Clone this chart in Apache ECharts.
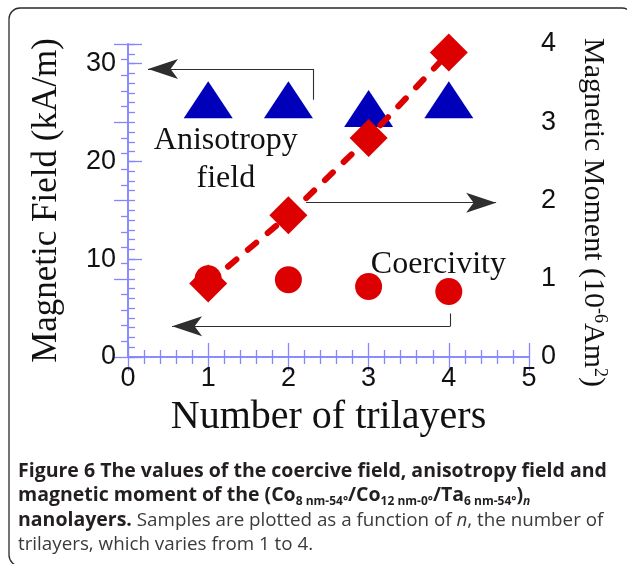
<!DOCTYPE html>
<html>
<head>
<meta charset="utf-8">
<script src="https://cdn.jsdelivr.net/npm/echarts@6/dist/echarts.min.js"></script>
<style>
html,body{margin:0;padding:0;background:#ffffff;}
#chart{width:627px;height:564px;}
</style>
</head>
<body>
<div id="chart"></div>
<script>
// ---- data ----
const trilayers = [1, 2, 3, 4];
const anisotropyField = [26.3, 26.3, 25.4, 26.3];   // kA/m, left axis
const coercivity = [8.0, 7.9, 7.2, 6.7];             // kA/m, left axis
const magneticMoment = [0.94, 1.81, 2.80, 3.89];     // 1e-6 Am^2, right axis

const xTickValues = [0, 1, 2, 3, 4, 5];
const leftTickValues = [0, 10, 20, 30];
const rightTickValues = [0, 1, 2, 3, 4];

// annotation geometry (data coordinates on bottom x / left y axes)
const anisoArrow = [[2.31, 26.3], [2.31, 29.45], [0.25, 29.45]];
const momentArrow = [[2.22, 15.78], [4.59, 15.78]];
const coerArrow = [[4.02, 4.45], [4.02, 3.15], [0.55, 3.15]];
const anisoLabelPos = [1.22, 20.2];
const coerLabelPos = [3.87, 9.4];

const AX = '#8585ff';
const TXT = '#111111';

const chart = echarts.init(document.getElementById('chart'), null, {renderer: 'canvas'});

function pairs(xs, ys) { return xs.map((x, i) => [x, ys[i]]); }

function arrowSegments(pts) {
  const segs = [];
  for (let i = 0; i < pts.length - 1; i++) {
    const last = i === pts.length - 2;
    segs.push([
      {coord: pts[i], symbol: 'none'},
      last ? {coord: pts[i + 1], symbol: 'arrow', symbolSize: [15, 30]} : {coord: pts[i + 1], symbol: 'none'}
    ]);
  }
  return segs;
}

const tickStyle = {color: AX, width: 1.3};
const CAP = 'Open Sans';
const CB = 19.5;
const CR = 18.8;

const option = {
  animation: false,
  backgroundColor: '#ffffff',
  title: {
    left: 13,
    top: 454,
    text: [
      '{b|Figure 6 The values of the coercive field, anisotropy field and}',
      '{b|magnetic moment of the (Co}{bs|8 nm-54°}{b|/Co}{bs|12 nm-0°}{b|/Ta}{bs|6 nm-54°}{b|)}{bsi|n}',
      '{b|nanolayers.}{r| Samples are plotted as a function of }{ri|n}{r|, the number of}',
      '{r|trilayers, which varies from 1 to 4.}'
    ].join('\n'),
    textStyle: {
      fontWeight: 'normal',
      rich: {
        b: {fontFamily: CAP, fontWeight: 'bold', fontSize: CB, color: '#231f20', lineHeight: 24.5},
        bs: {fontFamily: CAP, fontWeight: 'bold', fontSize: 12, color: '#231f20', lineHeight: 12, verticalAlign: 'bottom'},
        bsi: {fontFamily: CAP, fontWeight: 'bold', fontStyle: 'italic', fontSize: 12, color: '#231f20', lineHeight: 12, verticalAlign: 'bottom'},
        r: {fontFamily: CAP, fontWeight: 'normal', fontSize: CR, color: '#3a3a3a', lineHeight: 24.5},
        ri: {fontFamily: CAP, fontWeight: 'normal', fontStyle: 'italic', fontSize: CR, color: '#3a3a3a', lineHeight: 24.5}
      }
    }
  },
  graphic: [{
    type: 'rect',
    shape: {x: 9, y: 8, width: 624, height: 558, r: 11},
    style: {fill: 'none', stroke: '#2a2a2a', lineWidth: 1.3},
    silent: true
  }],
  grid: {left: 128, top: 44, width: 401, height: 313, containLabel: false},
  xAxis: [
    {
      type: 'value', position: 'bottom', min: 0, max: 5, interval: 1,
      axisLine: {show: true, lineStyle: {color: AX, width: 1.5}},
      axisTick: {show: true, inside: true, length: 14, lineStyle: tickStyle},
      minorTick: {show: true, splitNumber: 5, length: 7, lineStyle: tickStyle},
      splitLine: {show: false},
      axisLabel: {
        show: true, margin: 8, fontFamily: 'Liberation Sans', fontSize: 27, color: TXT,
        formatter: v => (xTickValues.indexOf(v) >= 0 ? String(v) : '')
      },
      name: 'Number of trilayers', nameLocation: 'middle', nameGap: 40,
      nameTextStyle: {fontFamily: 'Liberation Serif', fontSize: 40, color: TXT}
    },
    {
      type: 'value', position: 'top', min: 0, max: 5, interval: 1,
      axisLine: {show: true, lineStyle: {color: AX, width: 1.5}},
      axisTick: {show: true, inside: true, length: 14, lineStyle: tickStyle},
      minorTick: {show: true, splitNumber: 5, length: 7, lineStyle: tickStyle},
      splitLine: {show: false},
      axisLabel: {show: false}
    }
  ],
  yAxis: [
    {
      type: 'value', position: 'left', min: 0, max: 32, interval: 10,
      axisLine: {show: true, lineStyle: {color: AX, width: 1.5}},
      axisTick: {show: true, inside: true, length: 14, lineStyle: tickStyle},
      minorTick: {show: false},
      splitLine: {show: false},
      axisLabel: {
        show: true, margin: 12, fontFamily: 'Liberation Sans', fontSize: 27, color: TXT,
        padding: [0, 0, 16, 0],
        formatter: v => (leftTickValues.indexOf(v) >= 0 ? String(v) : '')
      },
      name: 'Magnetic Field (kA/m)', nameLocation: 'middle', nameGap: 64,
      nameTextStyle: {fontFamily: 'Liberation Serif', fontSize: 35, color: TXT}
    },
    {
      type: 'value', position: 'right', min: 0, max: 4, interval: 1,
      axisLine: {show: true, lineStyle: {color: AX, width: 1.5}},
      axisTick: {show: true, inside: true, length: 14, lineStyle: tickStyle},
      minorTick: {show: true, splitNumber: 5, length: 7, lineStyle: tickStyle},
      splitLine: {show: false},
      axisLabel: {
        show: true, margin: 12, fontFamily: 'Liberation Sans', fontSize: 27, color: TXT,
        padding: [0, 0, 16, 0],
        formatter: v => (rightTickValues.indexOf(v) >= 0 ? String(v) : '')
      },
      name: '{b|Magnetic Moment (10}{s|-6}{b|Am}{s|2}{b|)}',
      nameLocation: 'middle', nameGap: 47, nameRotate: -90,
      nameTextStyle: {
        padding: [0, 0, 0, 24],
        rich: {
          b: {fontFamily: 'Liberation Serif', fontSize: 30, color: TXT, lineHeight: 33},
          s: {fontFamily: 'Liberation Serif', fontSize: 18, color: TXT, lineHeight: 18, verticalAlign: 'top'}
        }
      }
    },
    {
      type: 'value', position: 'left', min: 0, max: 32, interval: 1,
      axisLine: {show: false},
      axisTick: {show: true, inside: true, length: 7, lineStyle: tickStyle},
      splitLine: {show: false},
      axisLabel: {show: false}
    }
  ],
  series: [
    {
      name: 'Anisotropy field', type: 'scatter', xAxisIndex: 0, yAxisIndex: 0,
      symbol: 'triangle', symbolSize: [49, 37],
      itemStyle: {color: '#0000bb', opacity: 1},
      data: pairs(trilayers, anisotropyField),
      z: 3
    },
    {
      name: 'Coercivity', type: 'scatter', xAxisIndex: 0, yAxisIndex: 0,
      symbol: 'circle', symbolSize: 27,
      itemStyle: {color: '#dd0000', opacity: 1},
      data: pairs(trilayers, coercivity),
      z: 4,
      markLine: {
        silent: true, animation: false,
        symbol: ['none', 'none'],
        label: {show: false},
        lineStyle: {color: '#2e2e2e', width: 1.1, type: 'solid', opacity: 1},
        emphasis: {disabled: true},
        data: [].concat(arrowSegments(anisoArrow), arrowSegments(momentArrow), arrowSegments(coerArrow))
      },
      markPoint: {
        silent: true, animation: false,
        symbol: 'circle', symbolSize: 0,
        label: {show: true, position: 'inside', fontFamily: 'Liberation Serif', fontSize: 32, color: TXT, lineHeight: 38},
        data: [
          {coord: anisoLabelPos, value: 0, label: {formatter: 'Anisotropy\nfield'}},
          {coord: coerLabelPos, value: 0, label: {formatter: 'Coercivity'}}
        ]
      }
    },
    {
      name: 'Magnetic moment', type: 'line', xAxisIndex: 0, yAxisIndex: 1,
      symbol: 'diamond', symbolSize: 38, showSymbol: true, clip: false,
      itemStyle: {color: '#dd0000', opacity: 1},
      lineStyle: {color: '#dd0000', width: 6, type: [11, 15], cap: 'round', opacity: 1},
      data: pairs(trilayers, magneticMoment),
      z: 5
    }
  ]
};

chart.setOption(option);
</script>
</body>
</html>
